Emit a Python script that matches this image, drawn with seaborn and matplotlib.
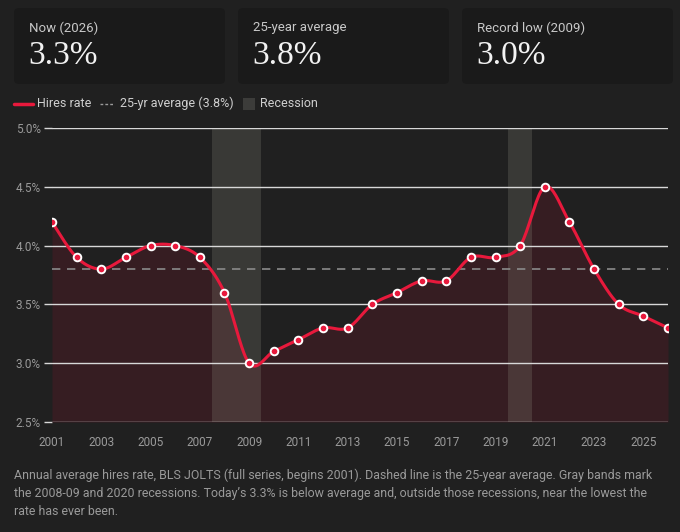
import numpy as np
import pandas as pd
import matplotlib
matplotlib.use("Agg")
import matplotlib.pyplot as plt
from matplotlib.patches import FancyBboxPatch, Rectangle
from matplotlib.lines import Line2D
import seaborn as sns

# data
years = list(range(2001, 2027))
hires_rate = [4.2, 3.9, 3.8, 3.9, 4.0, 4.0, 3.9, 3.6, 3.0, 3.1, 3.2, 3.3, 3.3,
              3.5, 3.6, 3.7, 3.7, 3.9, 3.9, 4.0, 4.5, 4.2, 3.8, 3.5, 3.4, 3.3]
avg_rate = 3.8
recessions = [(2007.5, 2009.5), (2019.5, 2020.5)]
x_ticks = list(range(2001, 2026, 2))
y_ticks = [2.5, 3.0, 3.5, 4.0, 4.5, 5.0]
cards = [("Now (2026)", "3.3%"), ("25-year average", "3.8%"), ("Record low (2009)", "3.0%")]
caption = ("Annual average hires rate, BLS JOLTS (full series, begins 2001). Dashed line is the 25-year average. Gray bands mark\n"
           "the 2008-09 and 2020 recessions. Today\u2019s 3.3% is below average and, outside those recessions, near the lowest the\n"
           "rate has ever been.")

BG = "#202020"
CARD = "#1a1a1a"
RED = "#e8193c"
FILL = "#361d22"

sns.set_theme(style="dark")
plt.rcParams["font.family"] = ["Roboto", "DejaVu Sans"]


def catmull_rom(x, y, n=20):
    # smooth line through the points (drawing only)
    x = np.asarray(x, float)
    y = np.asarray(y, float)
    px = np.concatenate([[x[0]], x, [x[-1]]])
    py = np.concatenate([[y[0]], y, [y[-1]]])
    xs, ys = [], []
    t = np.linspace(0, 1, n, endpoint=False)
    for i in range(1, len(px) - 2):
        for p, out in ((px, xs), (py, ys)):
            p0, p1, p2, p3 = p[i - 1], p[i], p[i + 1], p[i + 2]
            out.extend(0.5 * (2 * p1 + (-p0 + p2) * t + (2 * p0 - 5 * p1 + 4 * p2 - p3) * t ** 2
                              + (-p0 + 3 * p1 - 3 * p2 + p3) * t ** 3))
    xs.append(x[-1])
    ys.append(y[-1])
    return np.array(xs), np.array(ys)


df = pd.DataFrame({"year": years, "rate": hires_rate})
sx, sy = catmull_rom(df["year"], df["rate"])
smooth = pd.DataFrame({"year": sx, "rate": sy})

fig = plt.figure(figsize=(6.8, 5.32), dpi=100)
fig.patch.set_facecolor(BG)

# stat cards
W, H = 680, 532
card_x = [14, 238, 462]
for (lab, val), cx in zip(cards, card_x):
    fig.patches.append(FancyBboxPatch((cx / W, 1 - 84 / H), 211 / W, 76 / H,
                                      boxstyle="round,pad=0,rounding_size=0.008",
                                      transform=fig.transFigure, facecolor=CARD,
                                      edgecolor="none"))
    fig.text((cx + 15) / W, 1 - 28 / H, lab, color="#c8c8c8", fontsize=9.5, va="center")
    fig.text((cx + 14) / W, 1 - 56 / H, val, color="#f2f2f2", fontsize=24,
             va="center", family=["Liberation Serif", "DejaVu Serif"])

# legend row
ly = 1 - 103.5 / H
fig.lines.append(Line2D([14 / W, 33 / W], [ly, ly], color=RED, lw=2.5, transform=fig.transFigure))
fig.text(37 / W, ly, "Hires rate", color="#cfcfcf", fontsize=9, va="center")
fig.lines.append(Line2D([100 / W, 113 / W], [ly, ly], color="#9a9a9a", lw=1, ls=(0, (2, 1.5)),
                        transform=fig.transFigure))
fig.text(120 / W, ly, "25-yr average (3.8%)", color="#cfcfcf", fontsize=9, va="center")
fig.patches.append(Rectangle((243 / W, ly - 6 / H), 12 / W, 12 / H, transform=fig.transFigure,
                             facecolor="#3c3c3a", edgecolor="none"))
fig.text(260 / W, ly, "Recession", color="#cfcfcf", fontsize=9, va="center")

ax = fig.add_axes([52 / W, 1 - 422 / H, 616 / W, 294 / H])
ax.set_facecolor(BG)

ax.fill_between(smooth["year"], smooth["rate"], 2.5, color=FILL, lw=0, zorder=1)
for a, b in recessions:
    ax.axvspan(a, b, color="#8c8c7d", alpha=0.24, lw=0, zorder=2)
for yt in y_ticks:
    ax.axhline(yt, color="#d8d8d8", lw=1, zorder=3)
ax.axhline(avg_rate, color="#8a8a8a", lw=1.2, ls=(0, (5, 4)), zorder=3)

sns.lineplot(data=smooth, x="year", y="rate", color=RED, lw=2.2, ax=ax, zorder=4,
             estimator=None, sort=False)
sns.scatterplot(data=df, x="year", y="rate", color=RED, edgecolor="white", linewidth=1.4,
                s=30, ax=ax, zorder=5)

ax.set_xlim(2001, 2026)
ax.set_ylim(2.5, 5.0)
ax.set_xticks(x_ticks)
ax.set_xticklabels([str(t) for t in x_ticks])
ax.set_yticks(y_ticks)
ax.set_yticklabels([f"{t:.1f}%" for t in y_ticks])
ax.tick_params(axis="y", length=6, width=1, color="#d8d8d8", labelcolor="#9a9a9a",
               labelsize=8.5, pad=2, left=True)
ax.tick_params(axis="x", length=0, labelcolor="#9a9a9a", labelsize=8.5, pad=10)
ax.set_xlabel("")
ax.set_ylabel("")
ax.grid(False)
for sp in ax.spines.values():
    sp.set_visible(False)

fig.text(14 / W, 1 - 469 / H, caption, color="#9a9a9a", fontsize=8.9, va="top",
         linespacing=1.48)

fig.savefig("out.png", dpi=100, facecolor=BG)
